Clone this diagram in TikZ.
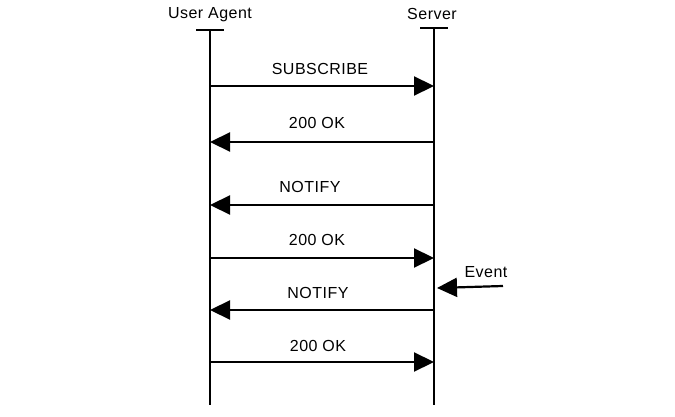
\documentclass[tikz,border=0pt]{standalone}
\usepackage{fontspec}
\setmainfont[LetterSpace=3]{Liberation Sans}
\usetikzlibrary{arrows.meta}
\usetikzlibrary{positioning}
\tikzset{msg/.style={-{Triangle[length=20pt,width=19pt]}, line width=2.2pt}}
\tikzset{life/.style={line width=2.2pt}}
\tikzset{lbl/.style={font=\fontsize{16}{18}\selectfont, inner sep=0pt}}

\begin{document}
\begin{tikzpicture}[x=1pt,y=-1pt]
   \useasboundingbox (0,0) rectangle (675,417);

   % the two parties
   \node[lbl] (UA) at (210,15) {User Agent};
   \node[lbl] (SV) at (432,14) {Server};

   \coordinate (UAtop) at (210,30);
   \coordinate (UAbot) at (210,405);
   \coordinate (SVtop) at (434,28);
   \coordinate (SVbot) at (434,405);

   \draw[life] (UAtop) -- (UAbot);
   \draw[life] (SVtop) -- (SVbot);
   \draw[life] ([xshift=-14pt]UAtop) -- ([xshift=14pt]UAtop);
   \draw[life] ([xshift=-14pt]SVtop) -- ([xshift=14pt]SVtop);

   % message heights on both lifelines
   \coordinate (U1) at (210,86);  \coordinate (S1) at (434,86);
   \coordinate (U2) at (210,142); \coordinate (S2) at (434,142);
   \coordinate (U3) at (210,205); \coordinate (S3) at (434,205);
   \coordinate (U4) at (210,258); \coordinate (S4) at (434,258);
   \coordinate (U5) at (210,310); \coordinate (S5) at (434,310);
   \coordinate (U6) at (210,362); \coordinate (S6) at (434,362);

   \draw[msg] (U1) -- (S1);
   \draw[msg] (S2) -- (U2);
   \draw[msg] (S3) -- (U3);
   \draw[msg] (U4) -- (S4);
   \draw[msg] (S5) -- (U5);
   \draw[msg] (U6) -- (S6);

   \node[lbl] (m1) at (320,69)  {SUBSCRIBE};
   \node[lbl] (m2) at (317,123) {200 OK};
   \node[lbl] (m3) at (310,187) {NOTIFY};
   \node[lbl] (m4) at (317,240) {200 OK};
   \node[lbl] (m5) at (318,293) {NOTIFY};
   \node[lbl] (m6) at (318,346) {200 OK};

   % external trigger
   \node[lbl] (EV) at (486,272) {Event};
   \coordinate (EVstart) at (503,286);
   \coordinate (EVend) at (437,288);
   \draw[msg] (EVstart) -- (EVend);
\end{tikzpicture}
\end{document}
